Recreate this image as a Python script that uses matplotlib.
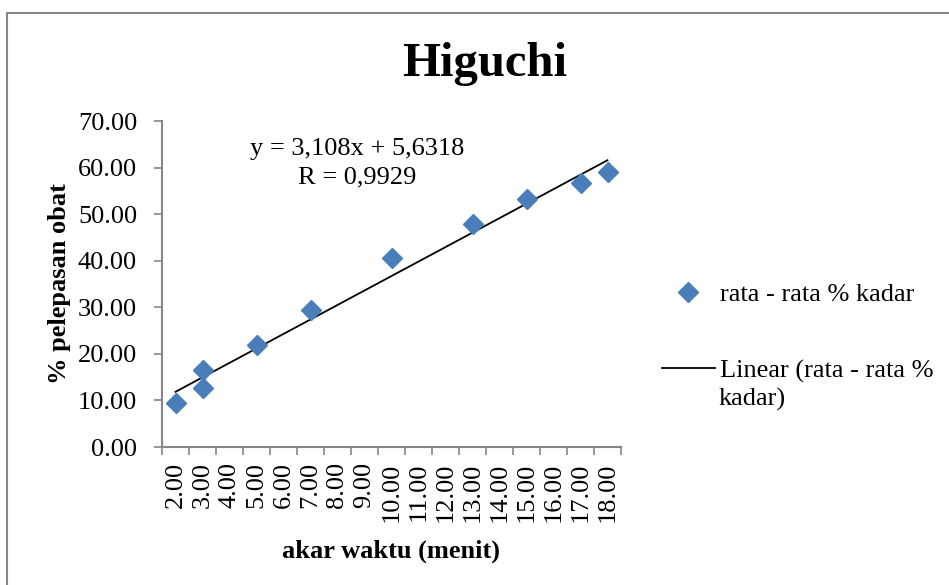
import numpy as np
import matplotlib
matplotlib.use('Agg')
from matplotlib import pyplot as plt
from matplotlib.patches import Rectangle

# data
akar_waktu = [2, 3, 3, 5, 7, 10, 13, 15, 17, 18]
pelepasan = [9.4, 16.6, 12.7, 21.8, 29.5, 40.6, 47.8, 53.3, 56.7, 59.1]
x_labels = [2, 3, 4, 5, 6, 7, 8, 9, 10, 11, 12, 13, 14, 15, 16, 17, 18]
y_ticks = [0, 10, 20, 30, 40, 50, 60, 70]
slope = 3.108
intercept = 5.6318
r_value = '0,9929'

plt.rcParams['font.family'] = ['Liberation Serif', 'DejaVu Serif']
grey = '#868686'
blue = '#4A7EBB'
fs = 19

fig = plt.figure(figsize=(9.49, 5.85), dpi=100)
ax = fig.add_axes([162/949, 1-447/585, 459/949, 326/585])

# outer chart border
fig.patches.append(Rectangle((7/949, -0.1), 1.2, 1.1-13/585, transform=fig.transFigure,
                             fill=False, edgecolor=grey, lw=1.5))

ax.plot(akar_waktu, pelepasan, 'D', color=blue, ms=10, mec=blue,
        label='rata - rata % kadar', zorder=5, clip_on=False)
xx = np.array([min(akar_waktu), max(akar_waktu)])
ax.plot(xx, slope*xx + intercept, color='black', lw=1.3,
        label='Linear (rata - rata %', zorder=4)

ax.set_xlim(1.5, 18.5)
ax.set_ylim(0, 70)
ax.set_yticks(y_ticks)
ax.set_yticklabels(['%.2f' % v for v in y_ticks], fontsize=fs)
ax.set_xticks(np.arange(1.5, 19, 1.0))
ax.set_xticklabels([])
ax.set_xticks(x_labels, minor=True)
ax.set_xticklabels(['%.2f' % v for v in x_labels], minor=True, rotation=90, fontsize=fs)
ax.tick_params(which='major', direction='out', length=6, width=1.2, color=grey)
ax.tick_params(which='minor', length=0, pad=11)
ax.tick_params(axis='y', pad=12)

for s in ['top', 'right']:
    ax.spines[s].set_visible(False)
for s in ['left', 'bottom']:
    ax.spines[s].set_color(grey)
    ax.spines[s].set_linewidth(1.5)

ax.set_xlabel('akar waktu (menit)', fontsize=fs, fontweight='bold')
ax.set_ylabel('% pelepasan obat', fontsize=fs, fontweight='bold')
ax.xaxis.set_label_coords(0.5, -0.285)
ax.yaxis.set_label_coords(-0.198, 0.5)

fig.text(485/949, 1-76/585, 'Higuchi', fontsize=35, fontweight='bold',
         ha='center', va='baseline')
ax.text(357/949, 1-163/585, 'y = 3,108x + 5,6318\nR = %s' % r_value, transform=fig.transFigure,
        fontsize=fs, ha='center', va='center', linespacing=1.35)

leg = ax.legend(loc='upper left', bbox_to_anchor=(662/949, 1-283/585),
                bbox_transform=fig.transFigure, frameon=False, fontsize=fs,
                handlelength=2.0, handletextpad=0.2, labelspacing=1.98,
                borderpad=0, borderaxespad=0)
fig.text(719/949, 1-399/585, 'kadar)', fontsize=fs, ha='left', va='center')

fig.savefig('out.png', dpi=100)
